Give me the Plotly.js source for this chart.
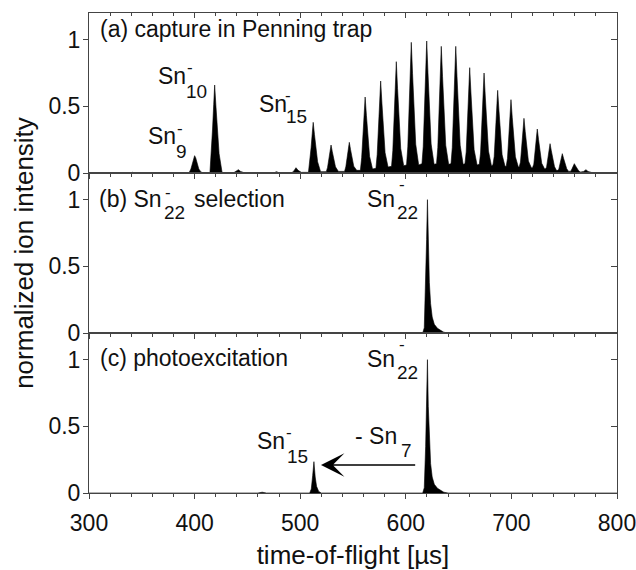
<!DOCTYPE html>
<html>
<head>
<meta charset="utf-8">
<script src="https://cdn.plot.ly/plotly-3.0.1.min.js"></script>
<style>html,body{margin:0;padding:0;background:#fff;}#chart{width:636px;height:570px;}</style>
</head>
<body>
<div id="chart"></div>
<script>
// ---- data (time-of-flight in µs, normalized intensity) ----
// (a) capture in Penning trap
const tofA = [
  300, 340, 341.5, 343, 393,
  395, 396.5, 398, 399, 400, 401, 402.3, 404, 406, 408,
  414.5, 415.7, 417, 418.1, 419, 420.2, 421.4, 423.2, 426, 430,
  437, 439.5, 441.5, 443.5, 447,
  475, 477.5, 480,
  492, 494, 496, 498, 501,
  507.8, 509, 510.3, 511.4, 512.3, 513.5, 514.7, 516.5, 519.3,
  524.7, 525.9, 527.2, 528.3, 529.2, 530.4, 531.6, 533.4, 536.2,
  542, 543.2, 544.5, 545.6, 546.5, 547.7, 548.9, 550.7, 553.5,
  557, 558.2, 559.5, 560.6, 561.5, 562.7, 563.9, 565.7, 568.5,
  571.7, 572.9, 574.2, 575.3, 576.2, 577.4, 578.6, 580.4, 583.2,
  586.5, 587.7, 589, 590.1, 591, 592.2, 593.4, 595.2, 598,
  600.7, 601.9, 603.2, 604.3, 605.2, 606.4, 607.6, 609.4, 612.2,
  615.3, 616.5, 617.8, 618.9, 619.8, 621, 622.2, 624, 626.8,
  629.1, 630.3, 631.6, 632.7, 633.6, 634.8, 636, 637.8, 640.6,
  642.8, 644, 645.3, 646.4, 647.3, 648.5, 649.7, 651.5, 654.3,
  656, 657.2, 658.5, 659.6, 660.5, 661.7, 662.9, 664.7, 667.5,
  669.6, 670.8, 672.1, 673.2, 674.1, 675.3, 676.5, 678.3, 681.1,
  682.5, 683.7, 685, 686.1, 687, 688.2, 689.4, 691.2, 694,
  695.1, 696.3, 697.6, 698.7, 699.6, 700.8, 702, 703.8, 706.6,
  707.4, 708.6, 709.9, 711, 711.9, 713.1, 714.3, 716.1, 718.9,
  720, 721.2, 722.5, 723.6, 724.5, 725.7, 726.9, 728.7, 731.5,
  732.1, 733.3, 734.6, 735.7, 736.6, 737.8, 739, 740.8, 742.6,
  743.7, 744.9, 746.2, 747.3, 748.2, 749.4, 750.6, 752.4, 754.2,
  755.1, 756.3, 757.6, 758.7, 759.6, 760.8, 762, 763.8, 765.6,
  766.1, 768.5, 770.6, 772.5, 776, 785, 800
];
const intA = [
  0, 0, 0.006, 0, 0,
  0.005, 0.03, 0.08, 0.115, 0.13, 0.115, 0.07, 0.03, 0.008, 0,
  0, 0.132, 0.33, 0.515, 0.66, 0.502, 0.317, 0.145, 0.005, 0,
  0.002, 0.012, 0.025, 0.012, 0.002,
  0.001, 0.01, 0.002,
  0.002, 0.015, 0.04, 0.02, 0.005,
  0.005, 0.076, 0.19, 0.296, 0.38, 0.289, 0.182, 0.084, 0.01,
  0.01, 0.042, 0.105, 0.164, 0.21, 0.16, 0.101, 0.046, 0.012,
  0.012, 0.046, 0.115, 0.179, 0.23, 0.175, 0.11, 0.051, 0.02,
  0.02, 0.114, 0.285, 0.445, 0.57, 0.433, 0.274, 0.125, 0.03,
  0.035, 0.138, 0.345, 0.538, 0.69, 0.524, 0.331, 0.152, 0.045,
  0.05, 0.167, 0.418, 0.651, 0.835, 0.635, 0.401, 0.184, 0.055,
  0.06, 0.196, 0.49, 0.764, 0.98, 0.745, 0.47, 0.216, 0.06,
  0.07, 0.198, 0.495, 0.772, 0.99, 0.752, 0.475, 0.218, 0.065,
  0.07, 0.19, 0.475, 0.741, 0.95, 0.722, 0.456, 0.209, 0.065,
  0.07, 0.19, 0.475, 0.741, 0.95, 0.722, 0.456, 0.209, 0.065,
  0.07, 0.158, 0.395, 0.616, 0.79, 0.6, 0.379, 0.174, 0.06,
  0.065, 0.15, 0.375, 0.585, 0.75, 0.57, 0.36, 0.165, 0.055,
  0.06, 0.124, 0.31, 0.484, 0.62, 0.471, 0.298, 0.136, 0.05,
  0.05, 0.11, 0.275, 0.429, 0.55, 0.418, 0.264, 0.121, 0.045,
  0.045, 0.082, 0.205, 0.32, 0.41, 0.312, 0.197, 0.09, 0.04,
  0.04, 0.066, 0.165, 0.257, 0.33, 0.251, 0.158, 0.073, 0.03,
  0.03, 0.044, 0.11, 0.172, 0.22, 0.167, 0.106, 0.048, 0.02,
  0.02, 0.029, 0.073, 0.113, 0.145, 0.11, 0.07, 0.032, 0.012,
  0.012, 0.014, 0.035, 0.055, 0.07, 0.053, 0.034, 0.015, 0.007,
  0.007, 0.012, 0.025, 0.012, 0.004, 0.001, 0
];
// (b) Sn22- selection
const tofB = [300, 616, 617.5, 618.8, 619.7, 620.5, 621.3, 622.3, 623.5, 625, 627, 630, 633, 636, 640, 800];
const intB = [0, 0, 0.04, 0.35, 0.7, 1.0, 0.65, 0.38, 0.22, 0.12, 0.065, 0.035, 0.02, 0.006, 0, 0];
// (c) photoexcitation
const tofC = [300, 460, 464, 468, 509, 510.5, 511.8, 513, 514.2, 515.5, 517.5, 520,
              616, 617.5, 618.8, 619.7, 620.5, 621.3, 622.3, 623.5, 625, 627, 630, 633, 636, 640, 800];
const intC = [0, 0, 0.006, 0, 0, 0.03, 0.13, 0.235, 0.12, 0.05, 0.012, 0,
              0, 0.04, 0.35, 0.7, 1.0, 0.65, 0.38, 0.22, 0.12, 0.065, 0.035, 0.02, 0.006, 0, 0];

const xTickVals = [300, 400, 500, 600, 700, 800];
const xTickText = ['300', '400', '500', '600', '700', '800'];
const yTickVals = [0, 0.5, 1];
const yTickText = ['0', '0.5', '1'];

// ---- styling ----
const FONT = 'Liberation Sans, Arial, Helvetica, sans-serif';
const TXT = '#111';
const LINE = '#444';
const XR = [300, 800];
const YR = [0, 1.2];

function spectrum(x, y, xa, ya) {
  return {x: x, y: y, xaxis: xa, yaxis: ya, type: 'scatter', mode: 'lines',
          fill: 'tozeroy', fillcolor: '#000', line: {color: '#000', width: 0.6},
          hoverinfo: 'skip', showlegend: false};
}
function empty(xa, ya) {
  return {x: [], y: [], xaxis: xa, yaxis: ya, type: 'scatter', mode: 'lines',
          hoverinfo: 'skip', showlegend: false};
}

const data = [
  spectrum(tofA, intA, 'x', 'y'),
  spectrum(tofB, intB, 'x2', 'y2'),
  spectrum(tofC, intC, 'x3', 'y3'),
  empty('x4', 'y'),
  empty('x', 'y4'),
  empty('x2', 'y5'),
  empty('x3', 'y6')
];

function xAxis(anchor, labels) {
  return {
    range: XR, anchor: anchor, tickmode: 'array', tickvals: xTickVals, ticktext: xTickText,
    ticks: 'outside', ticklen: 5, tickwidth: 1, tickcolor: LINE,
    minor: {dtick: 20, tick0: 300, ticks: 'outside', ticklen: 3, tickwidth: 1, tickcolor: LINE, showgrid: false},
    showline: true, linecolor: LINE, linewidth: 1, mirror: true,
    showgrid: false, zeroline: false, showticklabels: labels,
    ticklabeloverflow: 'allow', ticklabelstandoff: 4,
    tickfont: {family: FONT, size: 23, color: TXT}, fixedrange: true
  };
}
function yAxis(anchor, domain) {
  return {
    range: YR, anchor: anchor, domain: domain, tickmode: 'array',
    tickvals: yTickVals, ticktext: yTickText,
    ticks: 'outside', ticklen: 5, tickwidth: 1, tickcolor: LINE,
    showline: true, linecolor: LINE, linewidth: 1, mirror: true,
    showgrid: false, zeroline: false, ticklabeloverflow: 'allow', ticklabelstandoff: -2,
    tickfont: {family: FONT, size: 23, color: TXT}, fixedrange: true
  };
}
function yRight(over, anchor) {
  return {
    range: YR, overlaying: over, anchor: anchor, side: 'right', tickmode: 'array',
    tickvals: [0.5, 1], ticks: 'inside', ticklen: 6, tickwidth: 1, tickcolor: LINE,
    showline: false, showgrid: false, zeroline: false, showticklabels: false, fixedrange: true
  };
}

const D = [[2/3, 1], [1/3, 2/3], [0, 1/3]];

const xa3 = xAxis('y3', true);
xa3.title = {text: 'time-of-flight [µs]', font: {family: FONT, size: 26, color: TXT}, standoff: 11};
const ya2 = yAxis('x2', D[1]);
ya2.title = {text: 'normalized ion intensity', font: {family: FONT, size: 26, color: TXT}, standoff: 7};

function lab(xref, yref, x, y, text) {
  return {xref: xref, yref: yref, x: x, y: y, text: text, showarrow: false,
    xanchor: 'left', yanchor: 'middle', font: {family: FONT, size: 23, color: TXT}};
}
function sub(xref, yref, x, y, text) {
  return {xref: xref, yref: yref, x: x, y: y, text: text, showarrow: false,
    xanchor: 'left', yanchor: 'middle', font: {family: FONT, size: 19, color: TXT}};
}
function minus(xref, yref, x, y) {
  return {xref: xref, yref: yref, x: x, y: y, text: '-', showarrow: false,
    xanchor: 'center', yanchor: 'middle', font: {family: FONT, size: 17, color: TXT}};
}

const annotations = [
  lab('x', 'y', 308.5, 1.08, '(a) capture in Penning trap'),
  lab('x', 'y', 354.0, 0.274, 'Sn'), sub('x', 'y', 380.5, 0.165, '9'), minus('x', 'y', 385.7, 0.3375),
  lab('x', 'y', 363.4, 0.724, 'Sn'), sub('x', 'y', 390.0, 0.615, '10'), minus('x', 'y', 395.6, 0.795),
  lab('x', 'y', 459.1, 0.521, 'Sn'), sub('x', 'y', 484.7, 0.424, '15'), minus('x', 'y', 488.4, 0.585),

  lab('x2', 'y2', 307.6, 1.005, '(b) Sn'), sub('x2', 'y2', 369.1, 0.904, '22'),
  minus('x2', 'y2', 374.8, 1.0575), lab('x2', 'y2', 397.5, 1.005, 'selection'),
  lab('x2', 'y2', 561.4, 1.005, 'Sn'), sub('x2', 'y2', 589.8, 0.904, '22'), minus('x2', 'y2', 596.4, 1.1175),

  lab('x3', 'y3', 308.5, 1.0125, '(c) photoexcitation'),
  lab('x3', 'y3', 561.4, 1.005, 'Sn'), sub('x3', 'y3', 589.8, 0.904, '22'), minus('x3', 'y3', 596.4, 1.1175),
  lab('x3', 'y3', 457.2, 0.39, 'Sn'), sub('x3', 'y3', 485.6, 0.2775, '15'), minus('x3', 'y3', 489.4, 0.4575),
  lab('x3', 'y3', 550.0, 0.4275, '- Sn'), sub('x3', 'y3', 593.6, 0.3225, '7'),
  {xref: 'x3', yref: 'y3', x: 519.7, y: 0.21, axref: 'x3', ayref: 'y3', ax: 610.3, ay: 0.21,
   text: '', showarrow: true, arrowhead: 3, arrowsize: 3, arrowwidth: 1.3, arrowcolor: '#000'}
];

const layout = {
  width: 636, height: 570,
  margin: {l: 89, r: 19, t: 13, b: 77, pad: 0},
  paper_bgcolor: '#fff', plot_bgcolor: '#fff',
  showlegend: false,
  font: {family: FONT, color: TXT},
  xaxis: xAxis('y', false),
  xaxis2: Object.assign(xAxis('y2', false), {matches: 'x'}),
  xaxis3: Object.assign(xa3, {matches: 'x'}),
  xaxis4: {range: XR, overlaying: 'x', anchor: 'y', side: 'top', tickmode: 'array', tickvals: xTickVals,
           ticks: 'inside', ticklen: 5, tickwidth: 1, tickcolor: LINE,
           minor: {dtick: 20, tick0: 300, ticks: 'inside', ticklen: 3, tickwidth: 1, tickcolor: LINE, showgrid: false},
           showline: false, showgrid: false, zeroline: false, showticklabels: false, fixedrange: true},
  yaxis: yAxis('x', D[0]),
  yaxis2: ya2,
  yaxis3: yAxis('x3', D[2]),
  yaxis4: yRight('y', 'x'),
  yaxis5: yRight('y2', 'x2'),
  yaxis6: yRight('y3', 'x3'),
  annotations: annotations
};

Plotly.newPlot('chart', data, layout, {staticPlot: true, displayModeBar: false});
</script>
</body>
</html>
